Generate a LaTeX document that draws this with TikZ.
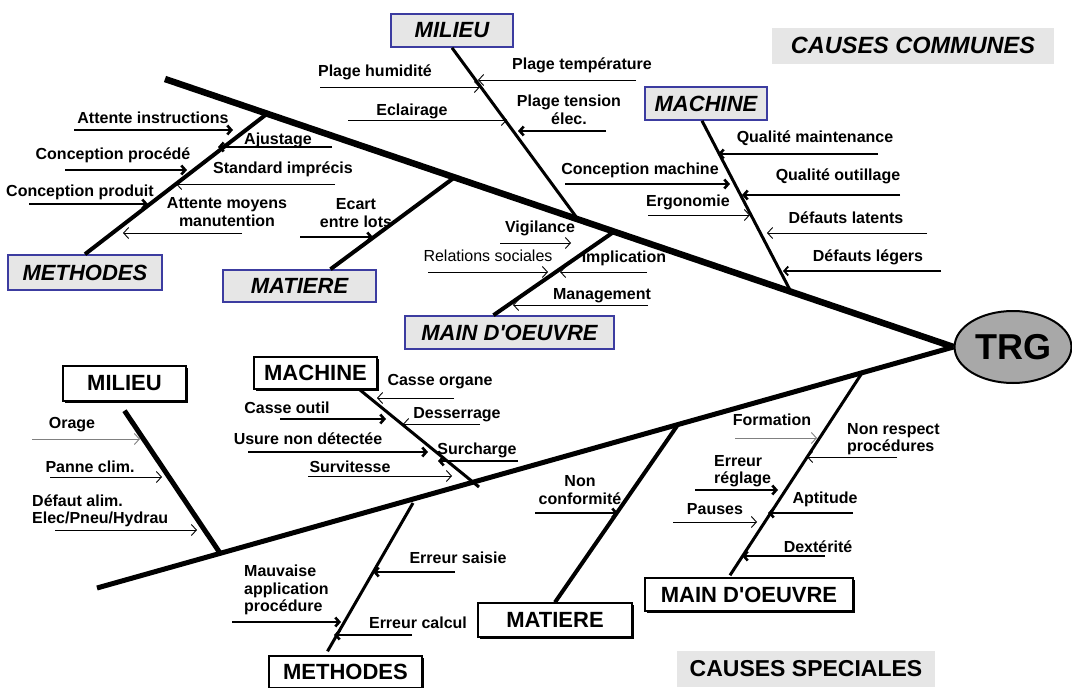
\documentclass[tikz,border=0pt]{standalone}
\usepackage{fontspec}
\setmainfont{Liberation Sans}
\usetikzlibrary{arrows.meta,shapes.geometric,shadows}
\definecolor{boxblue}{RGB}{60,60,160}
\definecolor{boxgray}{RGB}{230,230,230}
\definecolor{trggray}{RGB}{168,168,168}
\tikzset{
  lbl/.style={font=\fontsize{16}{17.5}\selectfont\bfseries, inner sep=0pt, align=center},
  lblg/.style={lbl, anchor=west, align=left},
  fin/.style={line width=0.9pt, -{Straight Barb[length=5pt,width=11pt]}},
  gros/.style={line width=2.6pt, -{Straight Barb[length=4pt,width=9pt]}},
  arete/.style={line width=3.5pt},
  hautbox/.style={draw=boxblue, line width=1.6pt, fill=boxgray, inner sep=0pt, minimum height=33pt,
    font=\fontsize{22}{24}\selectfont\bfseries\itshape},
  basbox/.style={draw=black, line width=1.4pt, fill=white, inner sep=0pt, minimum height=33pt,
    font=\fontsize{22}{24}\selectfont\bfseries,
    drop shadow={shadow xshift=2pt, shadow yshift=-2pt, fill=black, opacity=1}},
  titre/.style={fill=boxgray, inner sep=0pt, minimum height=36pt}
}

\begin{document}
\begin{tikzpicture}[x=1pt, y=-1pt]
	\useasboundingbox (0,0) rectangle (1072,688);

	% tete et aretes principales
	\node[ellipse, draw, line width=2pt, fill=trggray, minimum width=114pt, minimum height=72pt,
	  font=\fontsize{36}{36}\selectfont\bfseries] (trg) at (1013,347) {TRG};
	\coordinate (hqueue) at (165,79);
	\coordinate (bqueue) at (97,588);
	\draw[line width=6.5pt] (hqueue) -- (trg.west);
	\draw[line width=5pt] (bqueue) -- (trg.west);

	\node[titre, minimum width=282pt, font=\fontsize{23.5}{24}\selectfont\bfseries\itshape] (communes) at (913,45.5) {CAUSES COMMUNES};
	\node[titre, minimum width=258pt, font=\fontsize{23}{24}\selectfont\bfseries] (speciales) at (806,668.5) {CAUSES SPECIALES};

	% causes communes
	\node[hautbox, minimum width=154pt, minimum height=35pt] (umeth) at (85,272.5) {METHODES};
	\node[hautbox, minimum width=153pt, minimum height=32pt] (umat) at (299.5,286) {MATIERE};
	\node[hautbox, minimum width=122pt] (umil) at (452,30.5) {MILIEU};
	\node[hautbox, minimum width=209pt] (umo) at (509.5,332.5) {MAIN D\textquotesingle OEUVRE};
	\node[hautbox, minimum width=122pt] (umach) at (706,103.5) {MACHINE};

	\coordinate (jmeth) at (268,113);
	\coordinate (jmat) at (455,177);
	\coordinate (jmil) at (577,218);
	\coordinate (jmo) at (615,231);
	\coordinate (jmach) at (790,290);
	\draw[arete, line width=4pt] (umeth.north) -- (jmeth);
	\draw[arete, line width=4pt] ([xshift=31pt]umat.north) -- (jmat);
	\draw[arete, line width=3pt] (umil.south) -- (jmil);
	\draw[arete, line width=4pt] ([xshift=-16pt]umo.north) -- (jmo);
	\draw[arete, line width=3pt] ([xshift=-4pt]umach.south) -- (jmach);

	\draw[gros] (74,130) -- (233,130);
	\node[lbl] (attinst) at (153,118) {Attente instructions};
	\draw[gros] (332,147) -- (218,147);
	\node[lbl] (ajust) at (278,140) {Ajustage};
	\draw[gros] (65,170) -- (187,170);
	\node[lbl] (concproc) at (113,155) {Conception procédé};
	\draw[fin] (335,184) -- (176,184);
	\node[lbl] (standard) at (283,169) {Standard imprécis};
	\draw[gros] (29,204) -- (148,204);
	\node[lbl] (concprod) at (80,192) {Conception produit};
	\draw[fin] (242,233) -- (123,233);
	\node[lbl] (attmoy) at (227,212) {Attente moyens\\manutention};

	\draw[gros] (300,237) -- (373,237);
	\node[lbl] (ecart) at (356,213) {Ecart\\entre lots};

	\draw[fin] (320,87) -- (480,87);
	\node[lbl] (humid) at (375,72) {Plage humidité};
	\draw[fin] (636,80) -- (478,80);
	\node[lbl] (temper) at (582,65) {Plage température};
	\draw[fin] (348,120) -- (507,120);
	\node[lbl] (eclair) at (412,111) {Eclairage};
	\draw[gros] (606,131) -- (518,131);
	\node[lbl] (tension) at (569,110) {Plage tension\\élec.};

	\draw[fin] (500,243) -- (571,243);
	\node[lbl] (vigil) at (540,228) {Vigilance};
	\draw[fin] (428,272) -- (548,272);
	\node[lbl, font=\fontsize{16}{17}\selectfont] (relat) at (488,256) {Relations sociales};
	\draw[fin] (647,272) -- (560,272);
	\node[lbl] (implic) at (624,258) {Implication};
	\draw[fin] (648,305) -- (513,305);
	\node[lbl] (manag) at (602,296) {Management};

	\draw[gros] (878,154) -- (718,154);
	\node[lbl] (qualmaint) at (815,138) {Qualité maintenance};
	\draw[gros] (565,184) -- (730,184);
	\node[lbl] (concmach) at (640,170) {Conception machine};
	\draw[gros] (900,195) -- (742,195);
	\node[lbl] (qualout) at (838,176) {Qualité outillage};
	\draw[fin] (648,215) -- (750,215);
	\node[lbl] (ergo) at (688,202) {Ergonomie};
	\draw[fin] (927,233) -- (767,233);
	\node[lbl] (latents) at (846,218) {Défauts latents};
	\draw[gros, line width=1.8pt] (941,271) -- (783,271);
	\node[lbl] (legers) at (868,257) {Défauts légers};

	% causes speciales
	\node[basbox, minimum width=123pt, minimum height=35pt] (lmil) at (124.5,383.5) {MILIEU};
	\node[basbox, minimum width=123pt, minimum height=32pt] (lmach) at (315.5,373) {MACHINE};
	\node[basbox, minimum width=153pt, minimum height=32pt] (lmeth) at (345.5,672) {METHODES};
	\node[basbox, minimum width=154pt, minimum height=34pt] (lmat) at (555,620) {MATIERE};
	\node[basbox, minimum width=208pt] (lmo) at (749,594.5) {MAIN D\textquotesingle OEUVRE};

	\coordinate (kmil) at (220,553);
	\coordinate (kmach) at (479,487);
	\coordinate (kmeth) at (413,503);
	\coordinate (kmat) at (677,426);
	\coordinate (kmo) at (862,373);
	\draw[arete, line width=5pt] ([yshift=-9pt]lmil.south) -- (kmil);
	\draw[arete, line width=3pt] ([xshift=-18pt]lmach.south east) -- (kmach);
	\draw[arete, line width=3pt] ([xshift=-18pt, yshift=4pt]lmeth.north) -- (kmeth);
	\draw[arete, line width=4pt] (lmat.north) -- (kmat);
	\draw[arete, line width=3pt] ([xshift=-19pt, yshift=2pt]lmo.north) -- (kmo);

	\draw[fin, gray] (32,439) -- (140,439);
	\node[lbl] (orage) at (72,425) {Orage};
	\draw[fin] (50,477) -- (162,477);
	\node[lbl] (panne) at (90,467) {Panne clim.};
	\draw[fin] (55,530) -- (197,530);
	\node[lblg] (defalim) at (32,511) {Défaut alim.\\Elec/Pneu/Hydrau};

	\draw[fin] (454,398) -- (377,398);
	\node[lbl] (organe) at (440,382) {Casse organe};
	\draw[gros] (280,419) -- (386,419);
	\node[lbl] (outil) at (287,408) {Casse outil};
	\draw[fin] (480,424) -- (403,424);
	\node[lbl] (desserr) at (457,415) {Desserrage};
	\draw[gros] (248,452) -- (428,452);
	\node[lbl] (usure) at (308,439) {Usure non détectée};
	\draw[gros] (518,461) -- (438,461);
	\node[lbl] (surch) at (477,450) {Surcharge};
	\draw[fin] (308,476) -- (452,476);
	\node[lbl] (survit) at (350,467) {Survitesse};

	\draw[gros] (232,622) -- (341,622);
	\node[lblg] (mauvaise) at (244,590) {Mauvaise\\application\\procédure};
	\draw[gros] (455,572) -- (373,572);
	\node[lbl] (saisie) at (458,558) {Erreur saisie};
	\draw[gros] (412,635) -- (334,635);
	\node[lbl] (calcul) at (418,623) {Erreur calcul};

	\draw[gros] (535,513) -- (618,513);
	\node[lbl] (nonconf) at (580,490) {Non\\conformité};

	\draw[fin, gray] (735,438) -- (817,438);
	\node[lbl] (format) at (772,420) {Formation};
	\draw[fin] (897,457) -- (807,457);
	\node[lblg] (nonresp) at (847,439) {Non respect\\procédures};
	\draw[gros] (695,490) -- (778,490);
	\node[lblg] (reglage) at (714,471) {Erreur\\réglage};
	\draw[gros] (853,513) -- (768,513);
	\node[lbl] (aptit) at (825,499) {Aptitude};
	\draw[fin] (673,522) -- (757,522);
	\node[lbl] (pauses) at (715,509) {Pauses};
	\draw[gros] (825,556) -- (742,556);
	\node[lbl] (dexter) at (818,547) {Dextérité};
\end{tikzpicture}
\end{document}
